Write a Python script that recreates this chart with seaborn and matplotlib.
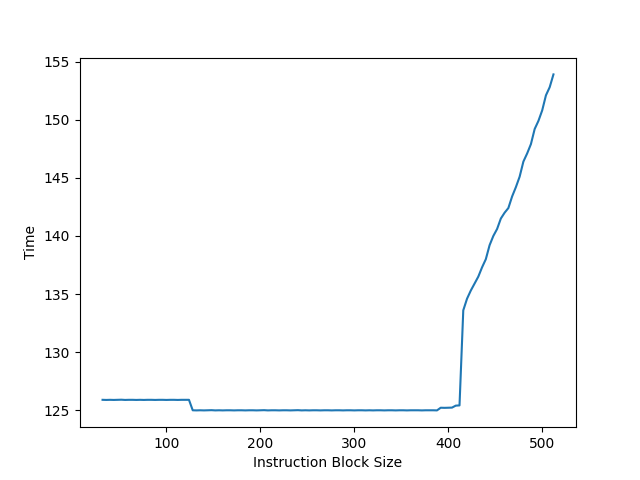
import matplotlib
matplotlib.use("Agg")
import matplotlib.pyplot as plt
import seaborn as sns
import pandas as pd

block_size = list(range(32, 513, 4))

time_low_a = [125.90, 125.89, 125.90, 125.89, 125.90, 125.91, 125.89, 125.90,
              125.90, 125.89, 125.90, 125.89, 125.90, 125.90, 125.89, 125.90,
              125.90, 125.89, 125.90, 125.90, 125.89, 125.90, 125.90, 125.90]
time_low_b = [125.00, 124.99, 125.00, 124.99, 125.00, 125.01, 124.99, 125.00,
              124.99, 125.00, 125.00, 124.99, 125.00, 125.00, 124.99, 125.00,
              125.00, 124.99, 125.00, 125.01, 124.99, 125.00, 125.00, 124.99,
              125.00, 125.00, 124.99, 125.00, 125.01, 124.99, 125.00, 124.99,
              125.00, 125.00, 124.99, 125.00, 125.00, 124.99, 125.00, 125.00,
              124.99, 125.00, 125.00, 124.99, 125.00, 125.00, 124.99, 125.00,
              124.99, 125.00, 125.00, 124.99, 125.00, 125.00, 124.99, 125.00,
              125.00, 124.99, 125.00, 125.00, 125.00, 124.99, 125.00, 125.00,
              125.00, 124.99]
time_mid = [125.22, 125.21, 125.22, 125.23, 125.40, 125.42]
time_high = [133.6, 134.6, 135.3, 135.9, 136.5, 137.3, 138.0, 139.2, 140.0,
             140.6, 141.5, 142.0, 142.4, 143.4, 144.2, 145.1, 146.4, 147.1,
             147.9, 149.2, 149.9, 150.8, 152.1, 152.8, 153.9]

time_values = time_low_a + time_low_b + time_mid + time_high
n = min(len(block_size), len(time_values))
df = pd.DataFrame({"Instruction Block Size": block_size[:n], "Time": time_values[:n]})

fig, ax = plt.subplots(figsize=(6.4, 4.8), dpi=100)
sns.lineplot(data=df, x="Instruction Block Size", y="Time", ax=ax, color="#1f77b4", linewidth=1.5)
ax.set_yticks([125, 130, 135, 140, 145, 150, 155])
fig.savefig("out.png", dpi=100)
